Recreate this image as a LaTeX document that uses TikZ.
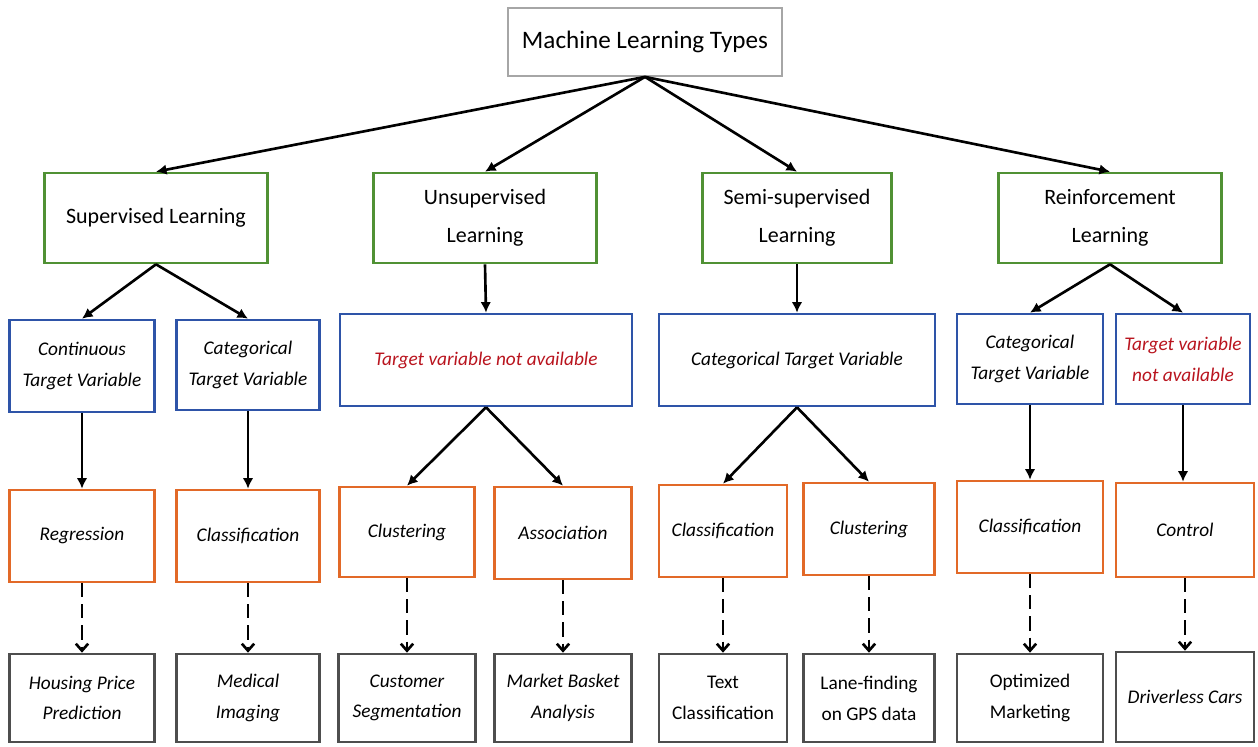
\documentclass[tikz,border=0pt]{standalone}
\usepackage{fontspec}
\setmainfont{Carlito}
\usetikzlibrary{arrows.meta}

\definecolor{mlgreen}{RGB}{80,145,52}
\definecolor{mlblue}{RGB}{46,84,168}
\definecolor{mlorange}{RGB}{226,105,40}
\definecolor{mlgray}{RGB}{78,78,78}
\definecolor{mlred}{RGB}{185,20,30}

\tikzset{
  box/.style={draw, line width=1.5pt, align=center, inner sep=1pt, fill=white},
  sz/.style 2 args={minimum width=#1*0.02cm, minimum height=#2*0.02cm},
  typebox/.style={box, draw=mlgreen, font=\fontsize{12.5}{21.5}\selectfont},
  targetbox/.style={box, draw=mlblue, font=\fontsize{11}{17.5}\selectfont\itshape},
  taskbox/.style={box, draw=mlorange, font=\fontsize{11}{17.5}\selectfont\itshape},
  usebox/.style={box, draw=mlgray, font=\fontsize{11}{17.5}\selectfont},
  solidarrow/.style={line width=1.5pt, -{Latex[length=6pt,width=6pt]}},
  dasharrow/.style={line width=1.5pt, dash pattern=on 8pt off 4pt, -{Straight Barb[length=4pt,width=7pt]}}
}

\begin{document}
\begin{tikzpicture}[x=0.02cm, y=-0.02cm]
  % 画布大小
  \useasboundingbox (0, 0) rectangle (1258, 747);

  % 根节点
  \node[box, draw=black!35, line width=1pt, sz={274}{68}, font=\fontsize{14.3}{17}\selectfont] (root) at (645, 42) {Machine Learning Types};

  % 学习类型
  \node[typebox, sz={223}{90}] (sup) at (156, 218) {Supervised Learning};
  \node[typebox, sz={223}{90}] (unsup) at (485, 218) {Unsupervised\\Learning};
  \node[typebox, sz={189}{90}] (semi) at (797, 218) {Semi-supervised\\Learning};
  \node[typebox, sz={223}{90}] (rl) at (1110, 218) {Reinforcement\\Learning};

  % 目标变量
  \node[targetbox, sz={145}{92}] (cont) at (82, 366) {Continuous\\Target Variable};
  \node[targetbox, sz={143}{90}] (catsup) at (248, 365) {Categorical\\Target Variable};
  \node[targetbox, sz={292}{92}, text=mlred] (naunsup) at (486, 360) {Target variable not available};
  \node[targetbox, sz={276}{92}] (catsemi) at (797, 360) {Categorical Target Variable};
  \node[targetbox, sz={146}{90}] (catrl) at (1030, 359) {Categorical\\Target Variable};
  \node[targetbox, sz={134}{90}, text=mlred] (narl) at (1183, 359) {Target variable\\not available};

  % 任务
  \node[taskbox, sz={145}{92}] (reg) at (82, 536) {Regression};
  \node[taskbox, sz={143}{92}] (clssup) at (248, 536) {Classification};
  \node[taskbox, sz={135}{90}] (cluunsup) at (407, 532) {Clustering};
  \node[taskbox, sz={137}{92}] (assunsup) at (563, 533) {Association};
  \node[taskbox, sz={128}{92}] (clssemi) at (723, 531) {Classification};
  \node[taskbox, sz={131}{92}] (clusemi) at (869, 529) {Clustering};
  \node[taskbox, sz={146}{92}] (clsrl) at (1030, 527) {Classification};
  \node[taskbox, sz={138}{94}] (ctrl) at (1185, 530) {Control};

  % 应用
  \node[usebox, sz={145}{88}, font=\fontsize{11}{17.5}\selectfont\itshape] (house) at (82, 698) {Housing Price\\Prediction};
  \node[usebox, sz={143}{88}, font=\fontsize{11}{17.5}\selectfont\itshape] (med) at (248, 698) {Medical\\Imaging};
  \node[usebox, sz={137}{88}, font=\fontsize{11}{17.5}\selectfont\itshape] (cust) at (407, 698) {Customer\\Segmentation};
  \node[usebox, sz={137}{88}, font=\fontsize{11}{17.5}\selectfont\itshape] (mkt) at (563, 698) {Market Basket\\Analysis};
  \node[usebox, sz={128}{88}] (txt) at (723, 698) {Text\\Classification};
  \node[usebox, sz={131}{88}] (lane) at (869, 698) {Lane-finding\\on GPS data};
  \node[usebox, sz={146}{88}] (opt) at (1030, 698) {Optimized\\Marketing};
  \node[usebox, sz={138}{90}, font=\fontsize{11}{17.5}\selectfont\itshape] (drive) at (1185, 697) {Driverless Cars};

  % 实线箭头
  \foreach \a/\b in {root/sup, root/unsup, root/semi, root/rl,
                     sup/cont, sup/catsup, unsup/naunsup, semi/catsemi, rl/catrl, rl/narl,
                     naunsup/cluunsup, naunsup/assunsup, catsemi/clssemi, catsemi/clusemi}
    \draw[solidarrow] (\a.south) -- (\b.north);
  \foreach \a/\b in {cont/reg, catsup/clssup, catrl/clsrl, narl/ctrl}
    \draw[solidarrow] (\a.south) -- (\a.south |- \b.north);

  % 虚线箭头
  \foreach \a/\b in {reg/house, clssup/med, cluunsup/cust, assunsup/mkt,
                     clssemi/txt, clusemi/lane, clsrl/opt, ctrl/drive}
    \draw[dasharrow] (\a.south) -- (\a.south |- \b.north);

\end{tikzpicture}
\end{document}
